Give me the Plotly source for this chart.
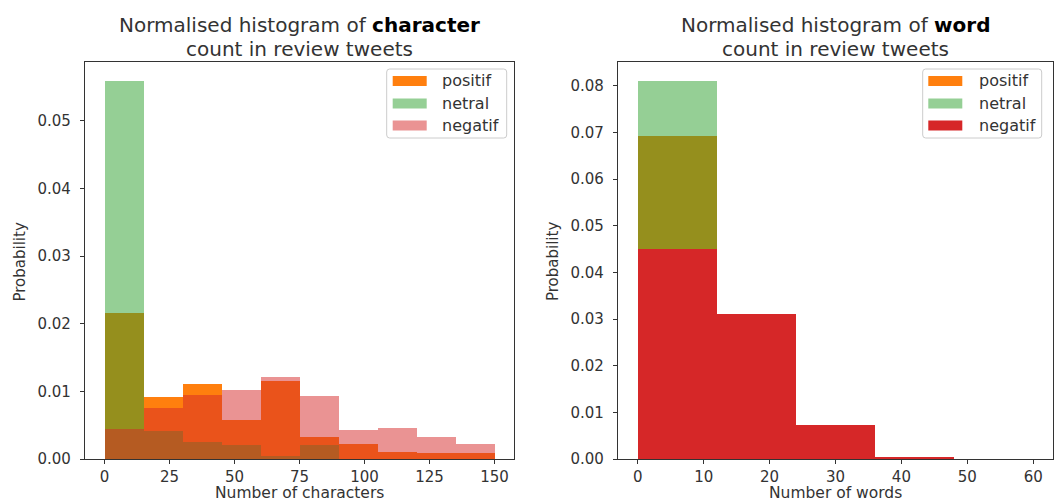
import plotly.graph_objects as go

W, H = 1054, 503  # design canvas in pixels (used to convert to paper fractions)

# ---------------- data ----------------
series_names = ["positif", "netral", "negatif"]

char_bin_edges = [0, 15, 30, 45, 60, 75, 90, 105, 120, 135]
char_bin_width = 15
char_positif = [0.0216, 0.0091, 0.0111, 0.0057, 0.0115, 0.0033, 0.0022, 0.0011, 0.0009, 0.0009]
char_netral = [0.0559, 0.0041, 0.0025, 0.0021, 0.0005, 0.0020, 0.0, 0.0, 0.0, 0.0]
char_negatif = [0.0044, 0.0076, 0.0094, 0.0102, 0.0121, 0.0093, 0.0043, 0.0046, 0.0033, 0.0022]

word_bin_edges = [0, 12, 24, 36, 48]
word_bin_width = 12
word_positif = [0.0692, 0.0125, 0.0015, 0.0001, 0.0]
word_netral = [0.0810, 0.0022, 0.0001, 0.0, 0.0]
word_negatif = [0.0451, 0.0310, 0.0073, 0.0004, 0.0]

char_xticks = [0, 25, 50, 75, 100, 125, 150]
word_xticks = [0, 10, 20, 30, 40, 50, 60]
char_yticks = [0.00, 0.01, 0.02, 0.03, 0.04, 0.05]
word_yticks = [0.00, 0.01, 0.02, 0.03, 0.04, 0.05, 0.06, 0.07, 0.08]

# ---------------- styling ----------------
C_POS = "#ff7f0e"
C_NET = "#2ca02c"
C_NEG = "#d62728"
TXT = "#333333"
FONT = "DejaVu Sans"


def pxx(x):
    return x / W


def pxy(y):
    return 1 - y / H


fig = go.Figure()

left_styles = [(C_POS, 1.0), (C_NET, 0.5), (C_NEG, 0.5)]
right_styles = [(C_POS, 1.0), (C_NET, 0.5), (C_NEG, 1.0)]

for name, vals, (col, op) in zip(series_names, [char_positif, char_netral, char_negatif], left_styles):
    fig.add_trace(go.Bar(x=char_bin_edges, y=vals, width=char_bin_width, offset=0,
                         name=name, marker=dict(color=col, opacity=op, line=dict(width=0)),
                         xaxis="x", yaxis="y", showlegend=False))

for name, vals, (col, op) in zip(series_names, [word_positif, word_netral, word_negatif], right_styles):
    fig.add_trace(go.Bar(x=word_bin_edges, y=vals, width=word_bin_width, offset=0,
                         name=name, marker=dict(color=col, opacity=op, line=dict(width=0)),
                         xaxis="x2", yaxis="y2", showlegend=False))

axis_common = dict(showline=True, mirror=True, linecolor=TXT, linewidth=1.3,
                   ticks="outside", ticklen=4, tickwidth=1, tickcolor=TXT,
                   showgrid=False, zeroline=False,
                   tickfont=dict(family=FONT, size=15, color=TXT))

y_dom = [pxy(459), pxy(62)]

fig.update_layout(
    autosize=True,
    margin=dict(l=0, r=0, t=0, b=0, autoexpand=False),
    paper_bgcolor="white", plot_bgcolor="white",
    barmode="overlay", bargap=0,
    xaxis=dict(domain=[pxx(85), pxx(514)], range=[-7.5, 157.5], tickvals=char_xticks,
               anchor="y", ticklabelstandoff=0, **axis_common),
    yaxis=dict(domain=y_dom, range=[0, 0.0587], tickvals=char_yticks, tickformat=".2f",
               anchor="x", ticklabelstandoff=6, **axis_common),
    xaxis2=dict(domain=[pxx(618), pxx(1053)], range=[-3, 63], tickvals=word_xticks,
                anchor="y2", ticklabelstandoff=0, **axis_common),
    yaxis2=dict(domain=y_dom, range=[0, 0.0851], tickvals=word_yticks, tickformat=".2f",
                anchor="x2", ticklabelstandoff=6, **axis_common),
    showlegend=False,
)

annotations = []
# titles (two lines each)
title_specs = [
    (299.5, "Normalised histogram of <b style='color:#000'>character</b>"),
    (835.5, "Normalised histogram of <b style='color:#000'>word</b>"),
]
for cx, line1 in title_specs:
    annotations.append(dict(x=pxx(cx), y=pxy(25), xref="paper", yref="paper",
                            text=line1, showarrow=False, xanchor="center", yanchor="middle",
                            font=dict(family=FONT, size=20, color=TXT)))
    annotations.append(dict(x=pxx(cx), y=pxy(49.5), xref="paper", yref="paper",
                            text="count in review tweets", showarrow=False,
                            xanchor="center", yanchor="middle",
                            font=dict(family=FONT, size=20, color=TXT)))
# axis titles
annotations.append(dict(x=pxx(299.5), y=pxy(502.5), xref="paper", yref="paper",
                        text="Number of characters", showarrow=False,
                        xanchor="center", yanchor="bottom", borderpad=0,
                        font=dict(family=FONT, size=15.5, color=TXT)))
annotations.append(dict(x=pxx(835.5), y=pxy(502.5), xref="paper", yref="paper",
                        text="Number of words", showarrow=False,
                        xanchor="center", yanchor="bottom", borderpad=0,
                        font=dict(family=FONT, size=15.5, color=TXT)))
annotations.append(dict(x=pxx(19.5), y=pxy(262), xref="paper", yref="paper",
                        text="Probability", showarrow=False, textangle=-90,
                        xanchor="center", yanchor="middle",
                        font=dict(family=FONT, size=15, color=TXT)))
annotations.append(dict(x=pxx(553), y=pxy(262), xref="paper", yref="paper",
                        text="Probability", showarrow=False, textangle=-90,
                        xanchor="center", yanchor="middle",
                        font=dict(family=FONT, size=15, color=TXT)))

shapes = []


def rounded_box(x0, y0, x1, y1, r=3):
    X0, X1 = pxx(x0), pxx(x1)
    Y0, Y1 = pxy(y0), pxy(y1)
    rx, ry = r / W, r / H
    path = (f"M{X0 + rx},{Y0} L{X1 - rx},{Y0} Q{X1},{Y0} {X1},{Y0 - ry} "
            f"L{X1},{Y1 + ry} Q{X1},{Y1} {X1 - rx},{Y1} "
            f"L{X0 + rx},{Y1} Q{X0},{Y1} {X0},{Y1 + ry} "
            f"L{X0},{Y0 - ry} Q{X0},{Y0} {X0 + rx},{Y0} Z")
    return dict(type="path", path=path, xref="paper", yref="paper",
                line=dict(color="#cccccc", width=1), fillcolor="rgba(255,255,255,0.8)")


entry_y = [81, 103.5, 125.5]
legends = [
    dict(box=(386.7, 69, 506.7, 138), sw=(392.7, 426.7), tx=440, styles=left_styles),
    dict(box=(922.7, 69, 1041.7, 138), sw=(928.3, 962.3), tx=977.3, styles=right_styles),
]
for lg in legends:
    shapes.append(rounded_box(*lg["box"]))
    for name, ey, (col, op) in zip(series_names, entry_y, lg["styles"]):
        shapes.append(dict(type="rect", xref="paper", yref="paper",
                           x0=pxx(lg["sw"][0]), x1=pxx(lg["sw"][1]),
                           y0=pxy(ey + 5), y1=pxy(ey - 5),
                           fillcolor=col, opacity=op, line=dict(width=0)))
        annotations.append(dict(x=pxx(lg["tx"]), y=pxy(ey), xref="paper", yref="paper",
                                text=name, showarrow=False, xanchor="left", yanchor="middle",
                                font=dict(family=FONT, size=16, color=TXT)))

fig.update_layout(annotations=annotations, shapes=shapes)

post = (
    "document.documentElement.style.margin='0px';"
    "document.body.style.margin='0px';document.body.style.padding='0px';"
    "document.documentElement.style.overflow='hidden';document.body.style.overflow='hidden';"
    "var gd=document.getElementById('{plot_id}');"
    "gd.style.position='fixed';gd.style.top='0px';gd.style.left='0px';"
    "gd.style.width='100vw';gd.style.height='100vh';"
    "Plotly.Plots.resize(gd);"
)

fig.write_html("out.html", config={"displayModeBar": False, "responsive": True},
               default_width="100vw", default_height="100vh", post_script=post)
